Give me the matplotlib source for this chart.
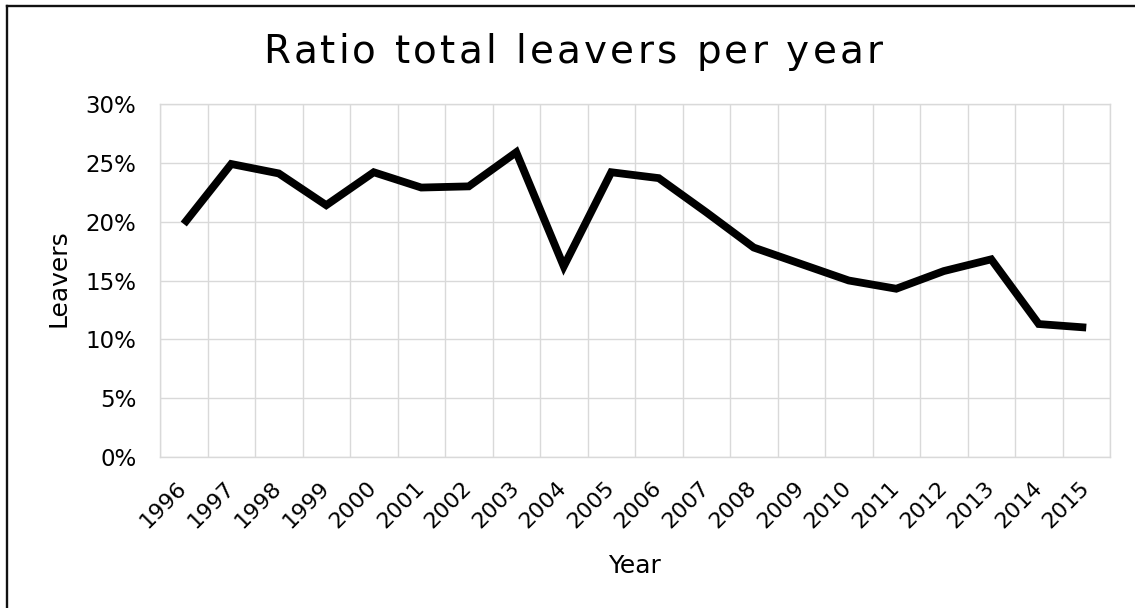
import matplotlib
matplotlib.use("Agg")
import matplotlib.pyplot as plt
from matplotlib.lines import Line2D
from matplotlib.ticker import FuncFormatter, MultipleLocator

# leaver ratio per year
years = [str(y) for y in range(1996, 2016)]
ratio = [0.198, 0.249, 0.241, 0.214, 0.242, 0.229, 0.230, 0.259, 0.162, 0.242,
         0.237, 0.208, 0.178, 0.164, 0.150, 0.143, 0.158, 0.168, 0.113, 0.110]
yticks = [0.0, 0.05, 0.10, 0.15, 0.20, 0.25, 0.30]

title = "Ratio total leavers per year"
font = "DejaVu Sans"
grid_col = "#d9d9d9"

W, H = 1135, 608
fig = plt.figure(figsize=(W / 100, H / 100), dpi=100)
fig.patch.set_facecolor("white")

# outer chart frame (top and left edges visible)
fig.add_artist(Line2D([7 / W, 1.0], [1 - 6 / H, 1 - 6 / H], color="#111111", lw=1.7))
fig.add_artist(Line2D([7 / W, 7 / W], [0.0, 1 - 6 / H], color="#111111", lw=1.7))

ax = fig.add_axes([160 / W, (H - 457) / H, 950 / W, 353 / H])
x = list(range(len(years)))
ax.plot(x, ratio, color="black", lw=5.6, solid_joinstyle="miter",
        solid_capstyle="butt", zorder=3)

ax.set_xlim(-0.5, len(years) - 0.5)
ax.set_ylim(yticks[0], yticks[-1])
ax.set_yticks(yticks)
ax.yaxis.set_major_formatter(FuncFormatter(lambda v, _: f"{v * 100:.0f}%"))
ax.set_xticks(x)
ax.set_xticklabels(years, rotation=45, ha="right", va="center",
                   rotation_mode="anchor", fontsize=16, family=font)
ax.xaxis.set_minor_locator(MultipleLocator(1, offset=0.5))
ax.grid(True, which="minor", axis="x", color=grid_col, lw=1.0)
ax.grid(True, which="major", axis="y", color=grid_col, lw=1.0)
ax.set_axisbelow(True)
ax.tick_params(axis="x", which="both", length=0, pad=20)
ax.tick_params(axis="y", length=0, pad=17, labelsize=16.5)
for lbl in ax.get_yticklabels():
    lbl.set_family(font)
for sp in ax.spines.values():
    sp.set_color(grid_col)
    sp.set_linewidth(1.0)

fig.text(58 / W, 1 - 278 / H, "Leavers", rotation=90, ha="center", va="center",
         fontsize=18, family=font)
fig.text(635 / W, 1 - 573 / H, "Year", ha="center", va="baseline",
         fontsize=18, family=font)


def spaced_text(s, xc, y, target_w, **kw):
    """Draw s centred at xc (pixels) with extra letter spacing to fill target_w."""
    r = fig.canvas.get_renderer()
    probe = fig.text(0, 0, "|", **kw)
    bar_w = probe.get_window_extent(r).width

    def adv(prefix):
        probe.set_text(prefix + "|")
        return probe.get_window_extent(r).width - bar_w

    natural = adv(s)
    gap = (target_w - natural) / (len(s) - 1)
    offsets = [adv(s[:i]) + i * gap for i in range(len(s))]
    probe.remove()
    x0 = xc - target_w / 2
    for ch, off in zip(s, offsets):
        if ch != " ":
            fig.text((x0 + off) / W, y, ch, ha="left", va="baseline", **kw)


spaced_text(title, 573, 1 - 63 / H, 620, fontsize=28, family=font)

fig.savefig("out.png", dpi=100)
